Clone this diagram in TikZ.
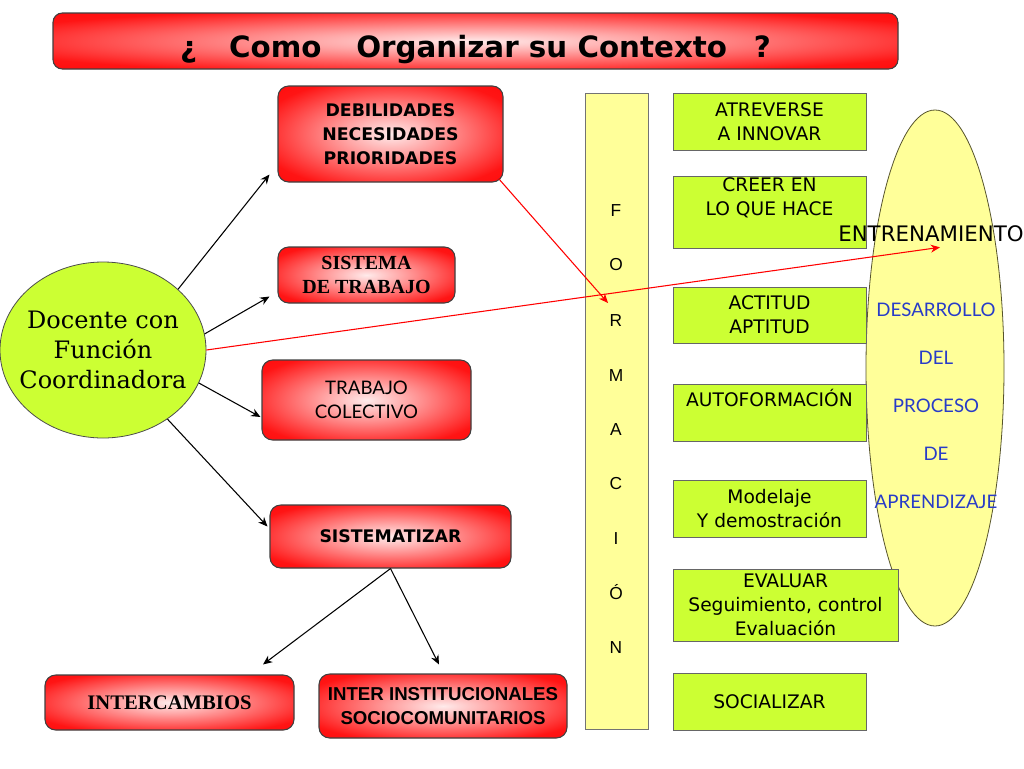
\documentclass[tikz,border=0pt]{standalone}
\usepackage{fontspec}
\usetikzlibrary{arrows.meta,shapes.geometric,calc}
\newfontfamily\comic{DejaVu Sans}
\newfontfamily\serifb{Liberation Serif}
\newfontfamily\gill{Lato}
\newfontfamily\arialf{Liberation Sans}
\newfontfamily\bookf{DejaVu Serif}
\definecolor{limeg}{RGB}{204,255,51}
\definecolor{paleyel}{RGB}{255,255,153}
\definecolor{bluetxt}{RGB}{40,60,200}
\pgfdeclareradialshading{redglow}{\pgfpoint{0bp}{0bp}}{color(0bp)=(white!92!red); color(10bp)=(red!35!white); color(30bp)=(red!92!white); color(45bp)=(red); color(100bp)=(red)}
\begin{document}
\begin{tikzpicture}[x=0.75pt,y=-0.75pt,
  redbox/.style={draw=black!75, line width=0.8pt, rounded corners=8pt, shading=redglow, align=center, inner sep=0pt},
  greenbox/.style={draw=black!60, fill=limeg, line width=0.6pt, align=center, inner sep=0pt, font=\comic\fontsize{14}{18}\selectfont},
  letter/.style={font=\arialf\fontsize{13}{15}\selectfont, inner sep=0pt},
  arr/.style={-{Stealth[length=7pt,width=6pt]}, line width=0.8pt, draw=black},
  redarr/.style={-{Stealth[length=7pt,width=6pt]}, line width=0.8pt, draw=red}
]
\useasboundingbox (0,0) rectangle (1024,768);
\fill[white] (0,0) rectangle (1024,768);

% title
\node[redbox, rounded corners=7pt, minimum width=633.75pt, minimum height=42pt, text height=24pt, text depth=0pt, font=\comic\bfseries\fontsize{22}{26}\selectfont] (title) at (475.5,41)
  {¿\hspace{24pt}Como\hspace{26pt}Organizar su Contexto\hspace{20pt}?};

% yellow ellipse
\node[ellipse, draw=black!50!olive, fill=paleyel, line width=0.6pt, minimum width=103.5pt, minimum height=387pt, inner sep=0pt] (ell) at (935,368) {};

% formacion column
\node[draw=black!55, fill=paleyel, line width=0.6pt, minimum width=47.25pt, minimum height=477pt, inner sep=0pt] (form) at (616.5,411) {};
\foreach \l/\y/\n in {F/211/f1, O/265/f2, R/321/f3, M/376/f4, A/430/f5, C/484/f6, I/539/f7, Ó/592/f8, N/648/f9}
  \node[letter] (\n) at (616,\y) {\l};

% green boxes
\node[greenbox, minimum width=144.75pt, minimum height=42.75pt] (g1) at (769.5,121.5) {ATREVERSE\\A INNOVAR};
\node[greenbox, minimum width=144.75pt, minimum height=54pt] (g2) at (769.5,212) {CREER EN\\LO QUE HACE\\\strut};
\node[greenbox, minimum width=144.75pt, minimum height=42pt] (g3) at (769.5,315) {ACTITUD\\APTITUD};
\node[greenbox, minimum width=144.75pt, minimum height=42.75pt] (g4) at (769.5,413) {AUTOFORMACIÓN\\\strut};
\node[greenbox, minimum width=144.75pt, minimum height=42.75pt] (g5) at (769.5,508.5) {Modelaje\\Y demostración};
\node[greenbox, minimum width=168.75pt, minimum height=54pt] (g6) at (785.5,605) {EVALUAR\\Seguimiento, control\\Evaluación};
\node[greenbox, minimum width=144.75pt, minimum height=42.75pt] (g7) at (769.5,701.5) {SOCIALIZAR};

% ellipse texts
\node[anchor=west, inner sep=0pt, font=\comic\fontsize{16}{18}\selectfont] (entr) at (838,234) {ENTRENAMIENTO};
\node[align=center, inner sep=0pt, text=bluetxt, font=\gill\fontsize{14}{36}\selectfont] (proc) at (936,406)
  {DESARROLLO\\DEL\\PROCESO\\DE\\APRENDIZAJE};

% red boxes
\node[redbox, minimum width=168.75pt, minimum height=72pt, font=\comic\bfseries\fontsize{13}{18}\selectfont] (deb) at (390.5,134)
  {DEBILIDADES\\NECESIDADES\\PRIORIDADES};
\node[redbox, minimum width=132.75pt, minimum height=42pt, font=\serifb\bfseries\fontsize{15}{17.5}\selectfont] (sis) at (366.5,275)
  {SISTEMA\\DE TRABAJO};
\node[redbox, minimum width=156.75pt, minimum height=60pt, font=\gill\fontsize{14}{18}\selectfont] (tra) at (366.5,400)
  {TRABAJO\\COLECTIVO};
\node[redbox, minimum width=180.75pt, minimum height=47.25pt, font=\comic\bfseries\fontsize{13}{18}\selectfont] (smz) at (390.5,536.5)
  {SISTEMATIZAR};
\node[redbox, minimum width=186.75pt, minimum height=41.25pt, font=\serifb\bfseries\fontsize{15.5}{18}\selectfont] (int) at (169.5,702.5)
  {INTERCAMBIOS};
\node[redbox, minimum width=186pt, minimum height=48pt, font=\arialf\bfseries\fontsize{14}{18}\selectfont] (ins) at (443,706)
  {INTER INSTITUCIONALES\\SOCIOCOMUNITARIOS};

% docente
\node[ellipse, draw=black!70, fill=limeg, line width=0.6pt, minimum width=154.5pt, minimum height=132pt, inner sep=0pt,
  label={[align=center, inner sep=0pt, font=\bookf\fontsize{18}{22.5}\selectfont]center:Docente con\\Función\\Coordinadora}] (doc) at (103,350) {};

% connectors
\draw[arr] (doc.39) -- ($(deb.south west)+(-8,-8)$);
\draw[arr] (doc.9.5) -- ($(sis.south west)+(-8,-7)$);
\draw[arr] (doc.-19.5) -- ($(tra.west)+(-1,17)$);
\draw[arr] (doc.-47) -- ($(smz.west)+(-2,-10)$);
\draw[arr] (smz.south) -- ($(int.north)+(93.5,-10)$);
\draw[arr] (smz.south) -- ($(ins.north)+(-4,-9)$);
\draw[redarr] ($(deb.south east)+(-5,-4)$) -- ($(f3)+(-8,-18)$);
\draw[redarr] (doc.0) -- ($(entr.south west)+(102,5)$);
\end{tikzpicture}
\end{document}
